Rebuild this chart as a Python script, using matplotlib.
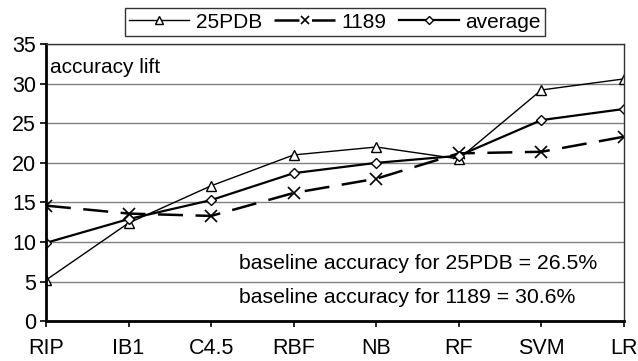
import numpy as np
import matplotlib.pyplot as plt

plt.rcParams['font.family'] = ['Liberation Sans', 'DejaVu Sans']

classifiers = ['RIP', 'IB1', 'C4.5', 'RBF', 'NB', 'RF', 'SVM', 'LR']
pdb25 = [5.2, 12.4, 17.1, 21.0, 22.0, 20.5, 29.2, 30.6]
d1189 = [14.6, 13.6, 13.3, 16.2, 18.0, 21.2, 21.4, 23.3]
average = [9.9, 12.9, 15.3, 18.7, 20.0, 20.9, 25.4, 26.8]

fig, ax = plt.subplots(figsize=(6.38, 3.61), dpi=100)
fig.subplots_adjust(left=0.072, right=0.978, top=0.878, bottom=0.11)

x = np.arange(len(classifiers))
ax.plot(x, pdb25, color='black', lw=1.0, marker='^', ms=7, mfc='white', mec='black', mew=1.0, label='25PDB')
ax.plot(x, d1189, color='black', lw=1.8, dashes=(10, 5), marker='x', ms=8, mec='black', mew=1.2, label='1189')
ax.plot(x, average, color='black', lw=1.6, marker='D', ms=5.5, mfc='white', mec='black', mew=1.0, label='average')

ax.set_xlim(0, len(classifiers) - 1)
ax.set_ylim(0, 35)
ax.set_yticks(range(0, 36, 5))
ax.set_xticks(x)
ax.set_xticklabels(classifiers)
ax.yaxis.grid(True, color='#808080', lw=1.0)
ax.set_axisbelow(True)

for s in ['left', 'bottom']:
    ax.spines[s].set_linewidth(2.0)
for s in ['top', 'right']:
    ax.spines[s].set_linewidth(1.0)
    ax.spines[s].set_color('#333333')
ax.tick_params(axis='both', labelsize=15.5, width=1.2, length=4, direction='out')
ax.tick_params(axis='x', pad=8)
ax.tick_params(axis='y', pad=3)

ax.text(0.007, 0.915, 'accuracy lift', transform=ax.transAxes, fontsize=15, va='center', ha='left')
ax.text(0.334, 0.21, 'baseline accuracy for 25PDB = 26.5%', transform=ax.transAxes, fontsize=15.3, va='center', ha='left')
ax.text(0.334, 0.087, 'baseline accuracy for 1189 = 30.6%', transform=ax.transAxes, fontsize=15.3, va='center', ha='left')

leg = ax.legend(loc='lower center', bbox_to_anchor=(0.5, 1.03), ncol=3, fontsize=15,
                frameon=True, fancybox=False, edgecolor='black', borderpad=0.2,
                handlelength=2.9, columnspacing=0.6, handletextpad=0.3, borderaxespad=0.0,
                markerscale=0.75)
leg.get_frame().set_linewidth(1.0)

plt.savefig('out.png', dpi=100)
